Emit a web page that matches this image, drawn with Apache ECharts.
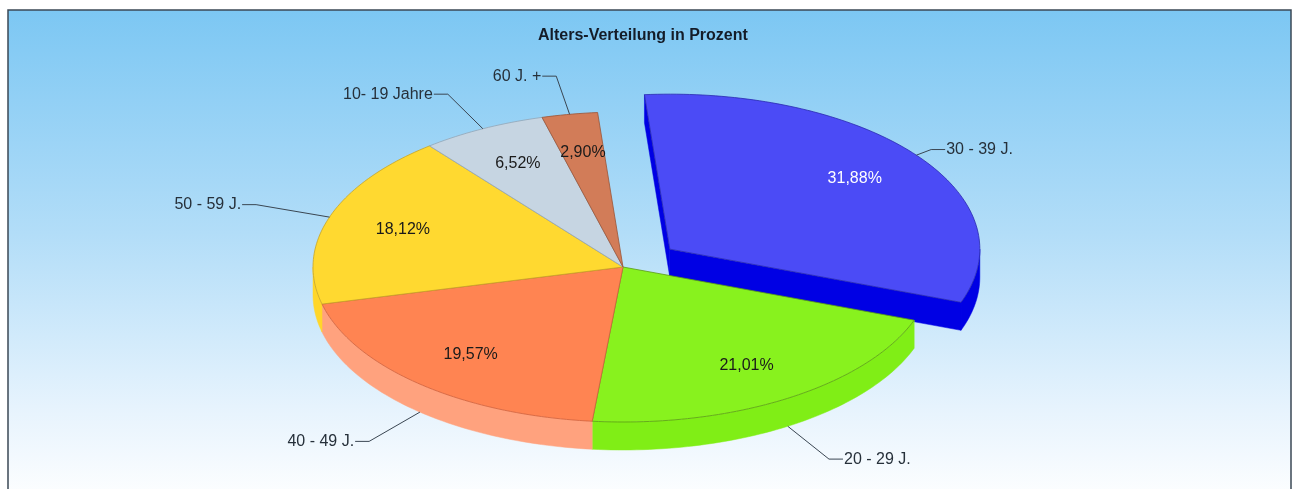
<!DOCTYPE html>
<html>
<head>
<meta charset="utf-8">
<script src="https://cdn.jsdelivr.net/npm/echarts@6/dist/echarts.min.js"></script>
<style>
  html, body { margin: 0; padding: 0; background: #ffffff; }
  #chart { width: 1296px; height: 489px; }
</style>
</head>
<body>
<div id="chart"></div>
<script>
// Age groups and their shares in percent
const categories = ['30 - 39 J.', '20 - 29 J.', '40 - 49 J.', '50 - 59 J.', '10- 19 Jahre', '60 J. +'];
const shares = [31.88, 21.01, 19.57, 18.12, 6.52, 2.90];
const exploded = [true, false, false, false, false, false];

// Slice styling
const topColors = ['#4b4bf6', '#88f21e', '#ff8452', '#ffd930', '#c6d5e2', '#d27c58'];
const sideColors = ['#0000e4', '#80ee16', '#ffa27e', '#ffd62a', '#b6c7d6', '#c06a46'];
const edgeColors = ['#2a2ab0', '#5a9a14', '#d0603a', '#c8a424', '#93a6b6', '#9a5436'];
const pctColors = ['#ffffff', '#1a1a1a', '#1a1a1a', '#1a1a1a', '#1a1a1a', '#1a1a1a'];
const FONT = 'Liberation Sans, Arial, sans-serif';

// Tilted pie geometry (angles in degrees, clockwise from 12 o'clock)
const CX = 623, CY = 267, RX = 310, RY = 155, DEPTH = 28;
const START = -4.7;
const EXPLODE = 0.19;
const LABEL_R = 0.75;
const LEADER_R = 1.25;
const LEADER_TAIL = 14;

const total = shares.reduce((a, b) => a + b, 0);

function sliceAngles(i) {
  let a = START;
  for (let k = 0; k < i; k++) a += shares[k] / total * 360;
  return [a, a + shares[i] / total * 360];
}
function rad(d) { return d * Math.PI / 180; }
function pt(deg, r, o, dy) {
  const t = rad(deg);
  return [CX + o[0] + r * RX * Math.sin(t), CY + o[1] - r * RY * Math.cos(t) + (dy || 0)];
}
function arc(a0, a1, r, o, dy) {
  const n = Math.max(2, Math.ceil(Math.abs(a1 - a0) / 1.2));
  const pts = [];
  for (let j = 0; j <= n; j++) pts.push(pt(a0 + (a1 - a0) * j / n, r, o, dy));
  return pts;
}
function fmt(v) { return v.toFixed(2).replace('.', ',') + '%'; }

function renderSlice(params, api) {
  const i = params.dataIndex;
  const value = api.value(0);
  const [a0, a1] = sliceAngles(i);
  const mid = (a0 + a1) / 2;
  const o = exploded[i]
    ? [EXPLODE * RX * Math.sin(rad(mid)), -EXPLODE * RY * Math.cos(rad(mid))]
    : [0, 0];
  const base = exploded[i] ? 1 : 2;
  const children = [];
  const center = [CX + o[0], CY + o[1]];

  // Outer wall: only the front half of the rim is visible
  for (let k = -1; k <= 1; k++) {
    const s = Math.max(a0, 90 + 360 * k), e = Math.min(a1, 270 + 360 * k);
    if (e > s) {
      const pts = arc(s, e, 1, o, 0).concat(arc(e, s, 1, o, DEPTH));
      children.push({
        type: 'polygon', z2: base,
        shape: { points: pts },
        style: { fill: sideColors[i], stroke: sideColors[i], lineWidth: 0.5 }
      });
    }
  }
  // Cut faces along the gap of a pulled-out slice
  const prev = (i - 1 + shares.length) % shares.length;
  const next = (i + 1) % shares.length;
  if ((exploded[i] || exploded[prev]) && Math.sin(rad(a0)) < 0) {
    const p = pt(a0, 1, o, 0);
    children.push({
      type: 'polygon', z2: base,
      shape: { points: [center, p, [p[0], p[1] + DEPTH], [center[0], center[1] + DEPTH]] },
      style: { fill: sideColors[i], stroke: sideColors[i], lineWidth: 0.5 }
    });
  }
  if ((exploded[i] || exploded[next]) && Math.sin(rad(a1)) > 0) {
    const p = pt(a1, 1, o, 0);
    children.push({
      type: 'polygon', z2: base,
      shape: { points: [center, p, [p[0], p[1] + DEPTH], [center[0], center[1] + DEPTH]] },
      style: { fill: sideColors[i], stroke: sideColors[i], lineWidth: 0.5 }
    });
  }
  // Top face
  children.push({
    type: 'polygon', z2: 10,
    shape: { points: [center].concat(arc(a0, a1, 1, o, 0)) },
    style: { fill: topColors[i], stroke: edgeColors[i], lineWidth: 0.8 }
  });
  // Percentage inside the slice
  const lp = pt(mid, LABEL_R, o, 0);
  children.push({
    type: 'text', z2: 20, x: lp[0], y: lp[1],
    style: {
      text: fmt(value), fill: pctColors[i], align: 'center', verticalAlign: 'middle',
      fontFamily: FONT, fontSize: 16
    }
  });
  // Leader line and category name
  const front = -Math.cos(rad(mid)) > 0 ? DEPTH : 0;
  const p0 = pt(mid, 1, o, front);
  const p1 = pt(mid, LEADER_R - (exploded[i] ? EXPLODE : 0), o, front);
  const dir = Math.sin(rad(mid)) >= 0 ? 1 : -1;
  const p2 = [p1[0] + dir * LEADER_TAIL, p1[1]];
  children.push({
    type: 'polyline', z2: 15,
    shape: { points: [p0, p1, p2] },
    style: { stroke: '#3a4652', lineWidth: 1, fill: null }
  });
  children.push({
    type: 'text', z2: 20, x: p2[0] + dir * 1, y: p2[1],
    style: {
      text: categories[i], fill: '#26303a', align: dir > 0 ? 'left' : 'right',
      verticalAlign: 'middle', fontFamily: FONT, fontSize: 16
    }
  });
  return { type: 'group', children: children };
}

const chart = echarts.init(document.getElementById('chart'), null, { renderer: 'canvas' });
chart.setOption({
  animation: false,
  title: {
    text: 'Alters-Verteilung in Prozent',
    left: 533, top: 23,
    textStyle: { fontFamily: FONT, fontSize: 16, fontWeight: 'bold', color: '#141c28' }
  },
  graphic: [{
    type: 'rect', z: -10, silent: true,
    shape: { x: 8, y: 10, width: 1283, height: 495 },
    style: {
      fill: new echarts.graphic.LinearGradient(0, 0, 0, 1, [
        { offset: 0, color: '#7cc7f3' },
        { offset: 0.45, color: '#b2ddf8' },
        { offset: 0.8, color: '#e6f3fd' },
        { offset: 1, color: '#ffffff' }
      ]),
      stroke: '#3b4856', lineWidth: 1.5
    }
  }],
  series: [{
    type: 'custom',
    coordinateSystem: 'none',
    renderItem: renderSlice,
    data: categories.map((c, i) => ({ name: c, value: [shares[i]] }))
  }]
});
</script>
</body>
</html>
